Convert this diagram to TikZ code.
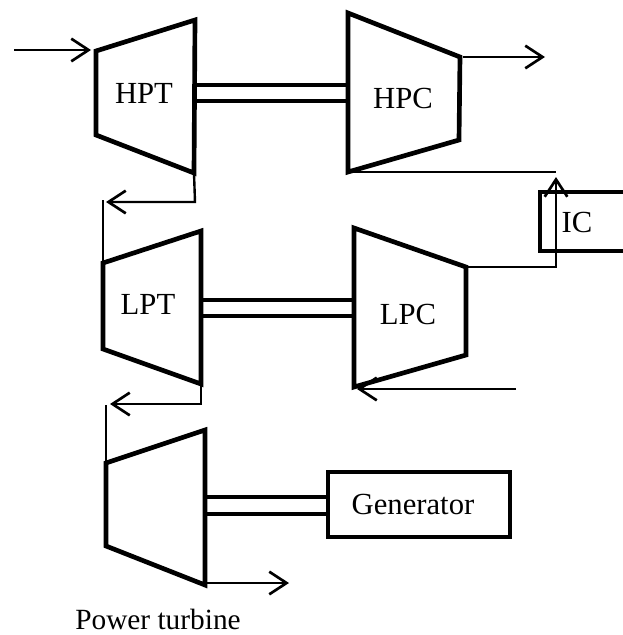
\documentclass[tikz,border=0pt]{standalone}
\usepackage{fontspec}
\setmainfont{Liberation Serif}
\usetikzlibrary{arrows.meta}
\tikzset{
  heavy/.style={line width=3.5pt,line join=miter,miter limit=3},
  thin line/.style={line width=1.8pt},
  flow/.style={line width=1.8pt,-{Straight Barb[length=13pt,width=17pt,line width=2pt]}},
  shaft/.style={line width=2.3pt},
  lbl/.style={inner sep=0pt,font=\fontsize{23}{26}\selectfont}
}
\begin{document}
\begin{tikzpicture}[x=0.75pt,y=-0.75pt]
\useasboundingbox (0,0) rectangle (623,635);
% corners
\coordinate (hpt1) at (96,51); \coordinate (hpt2) at (195,20); \coordinate (hpt3) at (194,173); \coordinate (hpt4) at (96,135);
\coordinate (hpc1) at (348,13); \coordinate (hpc2) at (460,57); \coordinate (hpc3) at (459,140); \coordinate (hpc4) at (348,172);
\coordinate (lpt1) at (103,263); \coordinate (lpt2) at (201,231); \coordinate (lpt3) at (201,384); \coordinate (lpt4) at (103,349);
\coordinate (lpc1) at (354,228); \coordinate (lpc2) at (466,267); \coordinate (lpc3) at (466,355); \coordinate (lpc4) at (354,387);
\coordinate (pt1) at (106,463); \coordinate (pt2) at (205,430); \coordinate (pt3) at (205,585); \coordinate (pt4) at (106,546);
% machines
\draw[heavy] (hpt1) -- (hpt2) -- (hpt3) -- (hpt4) -- cycle;
\draw[heavy] (hpc1) -- (hpc2) -- (hpc3) -- (hpc4) -- cycle;
\draw[heavy] (lpt1) -- (lpt2) -- (lpt3) -- (lpt4) -- cycle;
\draw[heavy] (lpc1) -- (lpc2) -- (lpc3) -- (lpc4) -- cycle;
\draw[heavy] (pt1) -- (pt2) -- (pt3) -- (pt4) -- cycle;
\node[lbl] (hptl) at (144,93) {HPT};
\node[lbl] (hpcl) at (403,98) {HPC};
\node[lbl] (lptl) at (148,304) {LPT};
\node[lbl] (lpcl) at (408,314) {LPC};
% boxes
\node[draw,line width=3.5pt,minimum width=136.5pt,minimum height=48.75pt,inner sep=0pt,anchor=north west,outer sep=0pt] (gen) at (328,472) {};
\node[lbl] (genl) at (413,504) {Generator};
\coordinate (icTR) at (623,192); \coordinate (icBR) at (623,251);
\draw[heavy] (icTR) -- (540,192) -- (540,251) -- (icBR);
\node[lbl] (icl) at (577,222) {IC};
\node[lbl,font=\fontsize{22}{26}\selectfont] (ptl) at (158,619) {Power turbine};
% shafts
\foreach \a/\b/\ya/\yb in {197/346/85/101, 203/353/300/316, 207/327/497/514}{
  \draw[shaft] (\a,\ya) -- (\b,\ya);
  \draw[shaft] (\a,\yb) -- (\b,\yb);
}
% flows
\coordinate (in0) at (14,50); \coordinate (in1) at (91,50);
\draw[flow] (in0) -- (in1);
\coordinate (a1) at (195,202); \coordinate (a2) at (106,202);
\draw[flow] (hpt3) -- (a1) -- (a2);
\coordinate (v1) at (103,200);
\draw[thin line] (v1) -- (lpt1);
\coordinate (b1) at (201,404); \coordinate (b2) at (110,404);
\draw[flow] (lpt3) -- (b1) -- (b2);
\coordinate (v2) at (106,405);
\draw[thin line] (v2) -- (pt1);
\coordinate (c1) at (463,57); \coordinate (c2) at (545,57);
\draw[flow] (c1) -- (c2);
\coordinate (d1) at (556,172);
\draw[thin line] (hpc4) -- (d1);
\coordinate (e1) at (556,267); \coordinate (e2) at (556,177);
\draw[flow] (lpc2) -- (e1) -- (e2);
\coordinate (f0) at (516,389); \coordinate (f1) at (357,389);
\draw[flow] (f0) -- (f1);
\coordinate (g0) at (207,583); \coordinate (g1) at (289,583);
\draw[flow] (g0) -- (g1);
\end{tikzpicture}
\end{document}
